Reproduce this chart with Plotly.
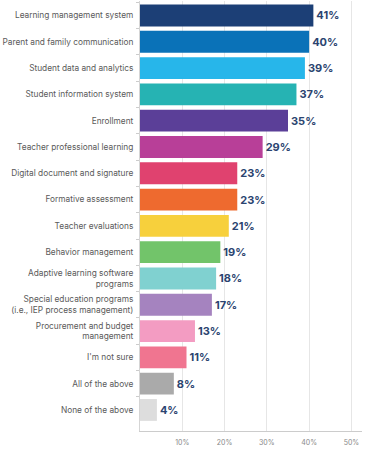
import plotly.graph_objects as go

categories = [
    "Learning management system",
    "Parent and family communication",
    "Student data and analytics",
    "Student information system",
    "Enrollment",
    "Teacher professional learning",
    "Digital document and signature",
    "Formative assessment",
    "Teacher evaluations",
    "Behavior management",
    "Adaptive learning software<br>programs",
    "Special education programs<br>(i.e., IEP process management)",
    "Procurement and budget<br>management",
    "I'm not sure",
    "All of the above",
    "None of the above",
]
values = [41, 40, 39, 37, 35, 29, 23, 23, 21, 19, 18, 17, 13, 11, 8, 4]
colors = [
    "#1c3f76", "#0a72b8", "#27b6ea", "#26b3b3", "#5b3f98", "#b83f98",
    "#e0426f", "#ee6a2f", "#f7d03c", "#72c46a", "#80d1d0", "#a583bf",
    "#f39cc2", "#f07590", "#aaaaaa", "#dddddd",
]
tick_vals = [0, 10, 20, 30, 40, 50]
tick_text = ["", "10%", "20%", "30%", "40%", "50%"]

fig = go.Figure(
    go.Bar(
        x=values,
        y=categories,
        orientation="h",
        marker=dict(color=colors, line=dict(width=0)),
        text=[f"{v}%" for v in values],
        textposition="outside",
        textfont=dict(family="Inter", size=11, color="#2b4470", weight="bold"),
        cliponaxis=False,
        width=0.83,
        hoverinfo="skip",
    )
)

fig.update_layout(
    width=372,
    height=449,
    margin=dict(l=140, r=10, t=1, b=18, autoexpand=False),
    paper_bgcolor="white",
    plot_bgcolor="white",
    showlegend=False,
    font=dict(family="Inter", color="#555555"),
    xaxis=dict(
        range=[0, 52.5],
        tickvals=tick_vals,
        ticktext=tick_text,
        tickfont=dict(size=7, color="#888888"),
        showgrid=True,
        gridcolor="#e6e6e6",
        gridwidth=1,
        zeroline=False,
        showline=True,
        linecolor="#cccccc",
        linewidth=1,
        ticks="",
        ticklabelstandoff=5,
        automargin=False,
    ),
    yaxis=dict(
        range=[15.8, -0.55],
        tickfont=dict(size=8.3, color="#5a5a5a"),
        showline=True,
        linecolor="#d5d5d5",
        linewidth=1,
        ticks="outside",
        tickson="boundaries",
        ticklen=3,
        tickcolor="#cccccc",
        showgrid=False,
        ticklabelstandoff=4,
        automargin=False,
    ),
)

fig.write_html(
    "out.html",
    config={"displayModeBar": False},
    post_script="document.body.style.margin='0';document.body.style.overflow='hidden';",
)
